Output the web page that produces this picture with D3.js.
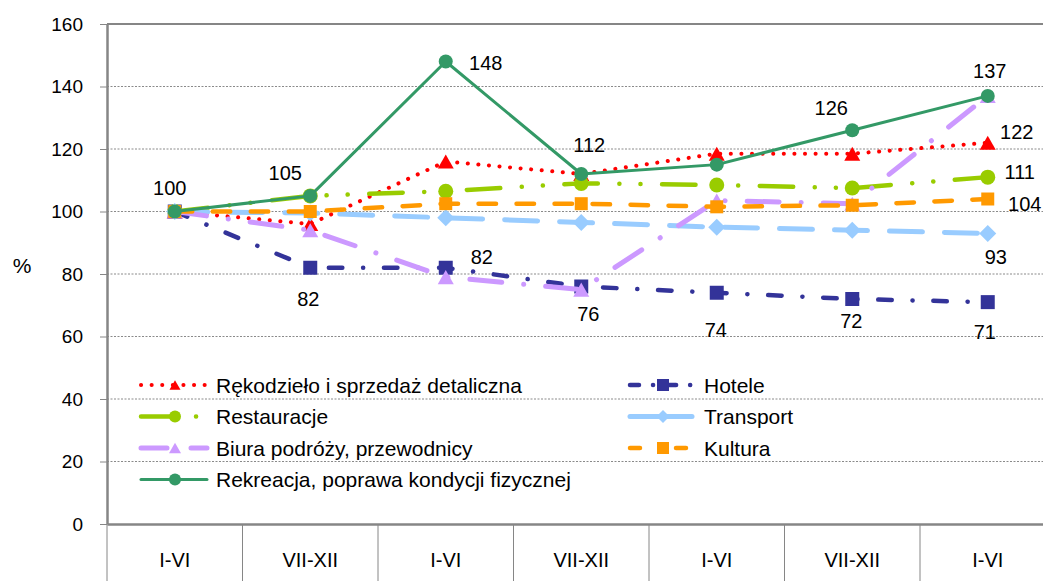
<!DOCTYPE html>
<html>
<head>
<meta charset="utf-8">
<script src="https://cdn.jsdelivr.net/npm/d3@7"></script>
<style>
  html, body { margin: 0; padding: 0; background: #fff; overflow: hidden; }
  svg { display: block; font-family: "Liberation Sans", Arial, sans-serif; }
</style>
</head>
<body>
<svg id="chart" width="1043" height="581"></svg>
<script>
// Half-year periods on the category axis
const categories = ["I-VI", "VII-XII", "I-VI", "VII-XII", "I-VI", "VII-XII", "I-VI"];

// Index values (%) per branch
const rekodzielo  = [100, 96, 116, 112, 118.5, 118.5, 122];
const hotele      = [100, 82, 82, 76, 74, 72, 71];
const restauracje = [100, 105, 106.5, 109, 108.5, 107.5, 111];
const transport   = [100, 99.5, 98, 96.5, 95, 94, 93];
const biura       = [100, 94, 79, 75, 103.5, 102.5, 137];
const kultura     = [100, 100, 102.5, 102.5, 101.5, 102, 104];
const rekreacja   = [100, 105, 148, 112, 115, 126, 137];

const yTicks = [0, 20, 40, 60, 80, 100, 120, 140, 160];

// Series in drawing order (later ones are painted on top)
const series = [
  { name: "Rękodzieło i sprzedaż detaliczna", values: rekodzielo, color: "#FF0000", width: 4,
    dash: "0.1 10.5", legendDash: "0.1 10.5", marker: "triangle", msize: 16, lsize: 11 },
  { name: "Hotele", values: hotele, color: "#333399", width: 4.5,
    dash: "13.5 20.75 0.1 20.75", legendDash: "9 14 0.1 14", marker: "square", msize: 14, lsize: 12 },
  { name: "Restauracje", values: restauracje, color: "#99CC00", width: 4.5,
    dash: "33.5 21.5 0.1 21 0.1 21.5", legendDash: "33.5 21.5 0.1 21 0.1 21.5", marker: "circle", msize: 15, lsize: 12 },
  { name: "Transport", values: transport, color: "#99CCFF", width: 5,
    dash: "33 22", legendDash: null, marker: "diamond", msize: 17, lsize: 13 },
  { name: "Biura podróży, przewodnicy", values: biura, color: "#CC99FF", width: 5,
    dash: "32 22 0.1 22", legendDash: "26 24", marker: "triangle", msize: 16, lsize: 12 },
  { name: "Kultura", values: kultura, color: "#FF9900", width: 4.5,
    dash: "17.5 20.5", legendDash: "10 36", marker: "square", msize: 13, lsize: 12 },
  { name: "Rekreacja, poprawa kondycji fizycznej", values: rekreacja, color: "#339966", width: 3,
    dash: null, legendDash: null, marker: "circle", msize: 14, lsize: 12 }
];

// Legend slots: column and row of each series
const legendSlots = [
  { name: "Rękodzieło i sprzedaż detaliczna", col: 0, row: 0 },
  { name: "Restauracje", col: 0, row: 1 },
  { name: "Biura podróży, przewodnicy", col: 0, row: 2 },
  { name: "Rekreacja, poprawa kondycji fizycznej", col: 0, row: 3 },
  { name: "Hotele", col: 1, row: 0 },
  { name: "Transport", col: 1, row: 1 },
  { name: "Kultura", col: 1, row: 2 }
];

// Data labels shown on selected points: series, period index, offset from the point
const dataLabels = [
  { name: "Rekreacja, poprawa kondycji fizycznej", i: 0, dx: -5,  dy: -24 },
  { name: "Rekreacja, poprawa kondycji fizycznej", i: 1, dx: -25, dy: -23 },
  { name: "Rekreacja, poprawa kondycji fizycznej", i: 2, dx: 40,  dy: 1.5 },
  { name: "Rekreacja, poprawa kondycji fizycznej", i: 3, dx: 8,   dy: -29 },
  { name: "Rekreacja, poprawa kondycji fizycznej", i: 5, dx: -21, dy: -22 },
  { name: "Rekreacja, poprawa kondycji fizycznej", i: 6, dx: 2,   dy: -25 },
  { name: "Rękodzieło i sprzedaż detaliczna",      i: 6, dx: 29,  dy: -11 },
  { name: "Restauracje",                           i: 6, dx: 32,  dy: -5 },
  { name: "Kultura",                               i: 6, dx: 37,  dy: 5 },
  { name: "Transport",                             i: 6, dx: 8,   dy: 24 },
  { name: "Hotele",                                i: 1, dx: -2,  dy: 31 },
  { name: "Hotele",                                i: 2, dx: 36,  dy: -11 },
  { name: "Hotele",                                i: 3, dx: 7,   dy: 27 },
  { name: "Hotele",                                i: 4, dx: -1,  dy: 37 },
  { name: "Hotele",                                i: 5, dx: -1,  dy: 22 },
  { name: "Hotele",                                i: 6, dx: -3,  dy: 30 }
];

const svg = d3.select("#chart");
const TICK_FONT = 19;
const LABEL_FONT = 20;
const LEGEND_FONT = 21;
const AXIS = "#868686";

const plot = { left: 107, top: 24, bottom: 524, band: 135.5 };
const plotRight = plot.left + plot.band * categories.length;

const x = d3.scaleBand()
  .domain(d3.range(categories.length))
  .range([plot.left, plotRight])
  .padding(0);
const y = d3.scaleLinear().domain([0, 160]).range([plot.bottom, plot.top]);
const cx = i => x(i) + x.bandwidth() / 2;

// Marker shapes, sized by their width
const shapes = {
  square:   { draw(c, s) { c.rect(-s / 2, -s / 2, s, s); } },
  circle:   { draw(c, s) { c.moveTo(s / 2, 0); c.arc(0, 0, s / 2, 0, 2 * Math.PI); } },
  diamond:  { draw(c, s) { const r = s / 2; c.moveTo(0, -r); c.lineTo(r, 0); c.lineTo(0, r); c.lineTo(-r, 0); c.closePath(); } },
  triangle: { draw(c, s) { const h = s * 0.88; c.moveTo(0, -h / 2); c.lineTo(s / 2, h / 2); c.lineTo(-s / 2, h / 2); c.closePath(); } }
};

// Horizontal gridlines
svg.append("g")
  .selectAll("line")
  .data(yTicks.filter(t => t > 0 && t < 160))
  .join("line")
  .attr("x1", plot.left).attr("x2", plotRight)
  .attr("y1", d => y(d)).attr("y2", d => y(d))
  .attr("stroke", "#8a8a8a").attr("stroke-width", 1)
  .attr("stroke-dasharray", "2 1.5");

// Top frame
svg.append("line")
  .attr("x1", plot.left).attr("x2", plotRight)
  .attr("y1", y(160)).attr("y2", y(160))
  .attr("stroke", AXIS).attr("stroke-width", 2);

// Value axis
const yAxis = svg.append("g")
  .attr("transform", `translate(${plot.left},0)`)
  .call(d3.axisLeft(y).tickValues(yTicks).tickSize(7).tickSizeOuter(0).tickPadding(17));
yAxis.select(".domain").attr("stroke", AXIS).attr("stroke-width", 2.5);
yAxis.selectAll(".tick line").attr("stroke", AXIS).attr("stroke-width", 1);
yAxis.selectAll(".tick text").attr("font-size", TICK_FONT).attr("fill", "#000")
  .attr("font-family", "Liberation Sans, Arial, sans-serif");

// Category axis with band separators
const xAxis = svg.append("g")
  .attr("transform", `translate(0,${plot.bottom})`)
  .call(d3.axisBottom(x).tickFormat(i => categories[i]).tickSize(0).tickPadding(29));
xAxis.select(".domain").attr("stroke", AXIS).attr("stroke-width", 2.5);
xAxis.selectAll(".tick text").attr("font-size", LABEL_FONT).attr("fill", "#000")
  .attr("font-family", "Liberation Sans, Arial, sans-serif");

svg.append("g")
  .selectAll("line")
  .data(d3.range(categories.length + 1))
  .join("line")
  .attr("x1", i => plot.left + i * x.step()).attr("x2", i => plot.left + i * x.step())
  .attr("y1", plot.bottom).attr("y2", 600)
  .attr("stroke", AXIS).attr("stroke-width", 1);

// Axis title
svg.append("text")
  .attr("x", 22).attr("y", 265)
  .attr("text-anchor", "middle").attr("dominant-baseline", "central")
  .attr("font-size", 21).attr("fill", "#000")
  .text("%");

// Series lines and markers
const line = d3.line().x((d, i) => cx(i)).y(d => y(d));

series.forEach(s => {
  const g = svg.append("g");
  g.append("path")
    .datum(s.values)
    .attr("d", line)
    .attr("fill", "none")
    .attr("stroke", s.color)
    .attr("stroke-width", s.width)
    .attr("stroke-linecap", "round")
    .attr("stroke-linejoin", "round")
    .attr("stroke-dasharray", s.dash);
  g.selectAll("path.mark")
    .data(s.values)
    .join("path")
    .attr("class", "mark")
    .attr("transform", (d, i) => `translate(${cx(i)},${y(d)})`)
    .attr("d", d3.symbol().type(shapes[s.marker]).size(s.msize))
    .attr("fill", s.color);
});

// Data labels
const byName = Object.fromEntries(series.map(s => [s.name, s]));
svg.append("g")
  .selectAll("text")
  .data(dataLabels)
  .join("text")
  .attr("x", d => cx(d.i) + d.dx)
  .attr("y", d => y(byName[d.name].values[d.i]) + d.dy)
  .attr("text-anchor", "middle")
  .attr("dominant-baseline", "central")
  .attr("font-size", LABEL_FONT)
  .attr("fill", "#000")
  .text(d => d3.format(".0f")(byName[d.name].values[d.i]));

// Legend
const legendCols = [
  { x0: 141, x1: 207, mark: 175, text: 216 },
  { x0: 630, x1: 692, mark: 663, text: 704 }
];
const legendRowY = r => 385 + r * 31.5;
const legend = svg.append("g");
legendSlots.forEach(slot => {
  const s = byName[slot.name];
  const c = legendCols[slot.col];
  const ly = legendRowY(slot.row);
  const g = legend.append("g");
  g.append("line")
    .attr("x1", c.x0).attr("x2", c.x1).attr("y1", ly).attr("y2", ly)
    .attr("stroke", s.color)
    .attr("stroke-width", s.width)
    .attr("stroke-linecap", "round")
    .attr("stroke-dasharray", s.legendDash);
  g.append("path")
    .attr("transform", `translate(${c.mark},${ly})`)
    .attr("d", d3.symbol().type(shapes[s.marker]).size(s.lsize))
    .attr("fill", s.color);
  g.append("text")
    .attr("x", c.text).attr("y", ly)
    .attr("dominant-baseline", "central")
    .attr("font-size", LEGEND_FONT)
    .attr("fill", "#000")
    .text(s.name);
});
</script>
</body>
</html>
